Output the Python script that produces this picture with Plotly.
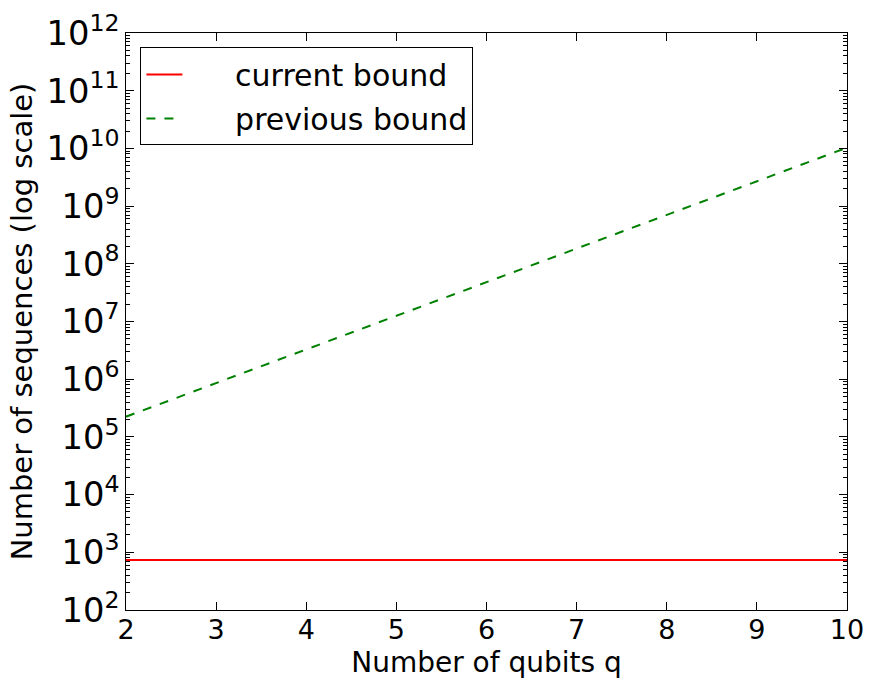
import plotly.graph_objects as go

qubits = [2, 3, 4, 5, 6, 7, 8, 9, 10]
current_bound = [735, 735, 735, 735, 735, 735, 735, 735, 735]
previous_bound = [2.24e5, 8.6e5, 3.3e6, 1.26e7, 4.8e7, 1.85e8, 7.1e8, 2.7e9, 1.03e10]
series_names = ["current bound", "previous bound"]

FONT = "DejaVu Sans"
PAD = "\u00a0" * 5

fig = go.Figure()
fig.add_trace(go.Scatter(
    x=qubits, y=current_bound, mode="lines", name=PAD + series_names[0],
    legendgroup="a",
    line=dict(color="#ff0000", width=2),
))
fig.add_trace(go.Scatter(
    x=qubits, y=previous_bound, mode="lines", name=PAD + series_names[1],
    legendgroup="b",
    line=dict(color="#008000", width=2, dash="dash"),
))

axis_common = dict(
    showgrid=False, zeroline=False, showline=True, linecolor="#000000",
    linewidth=1, mirror="allticks", ticks="inside", ticklen=8,
    tickcolor="#000000", tickfont=dict(family=FONT, size=27, color="#000000"),
)

fig.update_layout(
    width=875, height=679,
    margin=dict(l=126, r=28, t=33, b=69),
    paper_bgcolor="white", plot_bgcolor="white",
    font=dict(family=FONT, color="#000000"),
    showlegend=True,
    legend=dict(
        x=0.02, y=0.975, xanchor="left", yanchor="top",
        bordercolor="#000000", borderwidth=1, bgcolor="white",
        font=dict(family=FONT, size=30, color="#000000"),
        itemwidth=36, tracegroupgap=2,
    ),
    xaxis=dict(
        range=[2, 10], dtick=1, automargin=False, ticklabelstandoff=-4,
        title=dict(text="Number of qubits q", font=dict(family=FONT, size=28)),
        **axis_common,
    ),
    yaxis=dict(
        type="log", range=[2, 12], dtick=1, automargin="left",
        exponentformat="power", showexponent="all",
        minor=dict(ticks="inside", ticklen=4, tickcolor="#000000", showgrid=False),
        title=dict(text="Number of sequences (log scale)", font=dict(family=FONT, size=29), standoff=5),
        **axis_common,
    ),
)

fig.write_html(
    "out.html",
    config={"displayModeBar": False},
    post_script="document.body.style.margin='0px';document.body.style.padding='0px';",
)
